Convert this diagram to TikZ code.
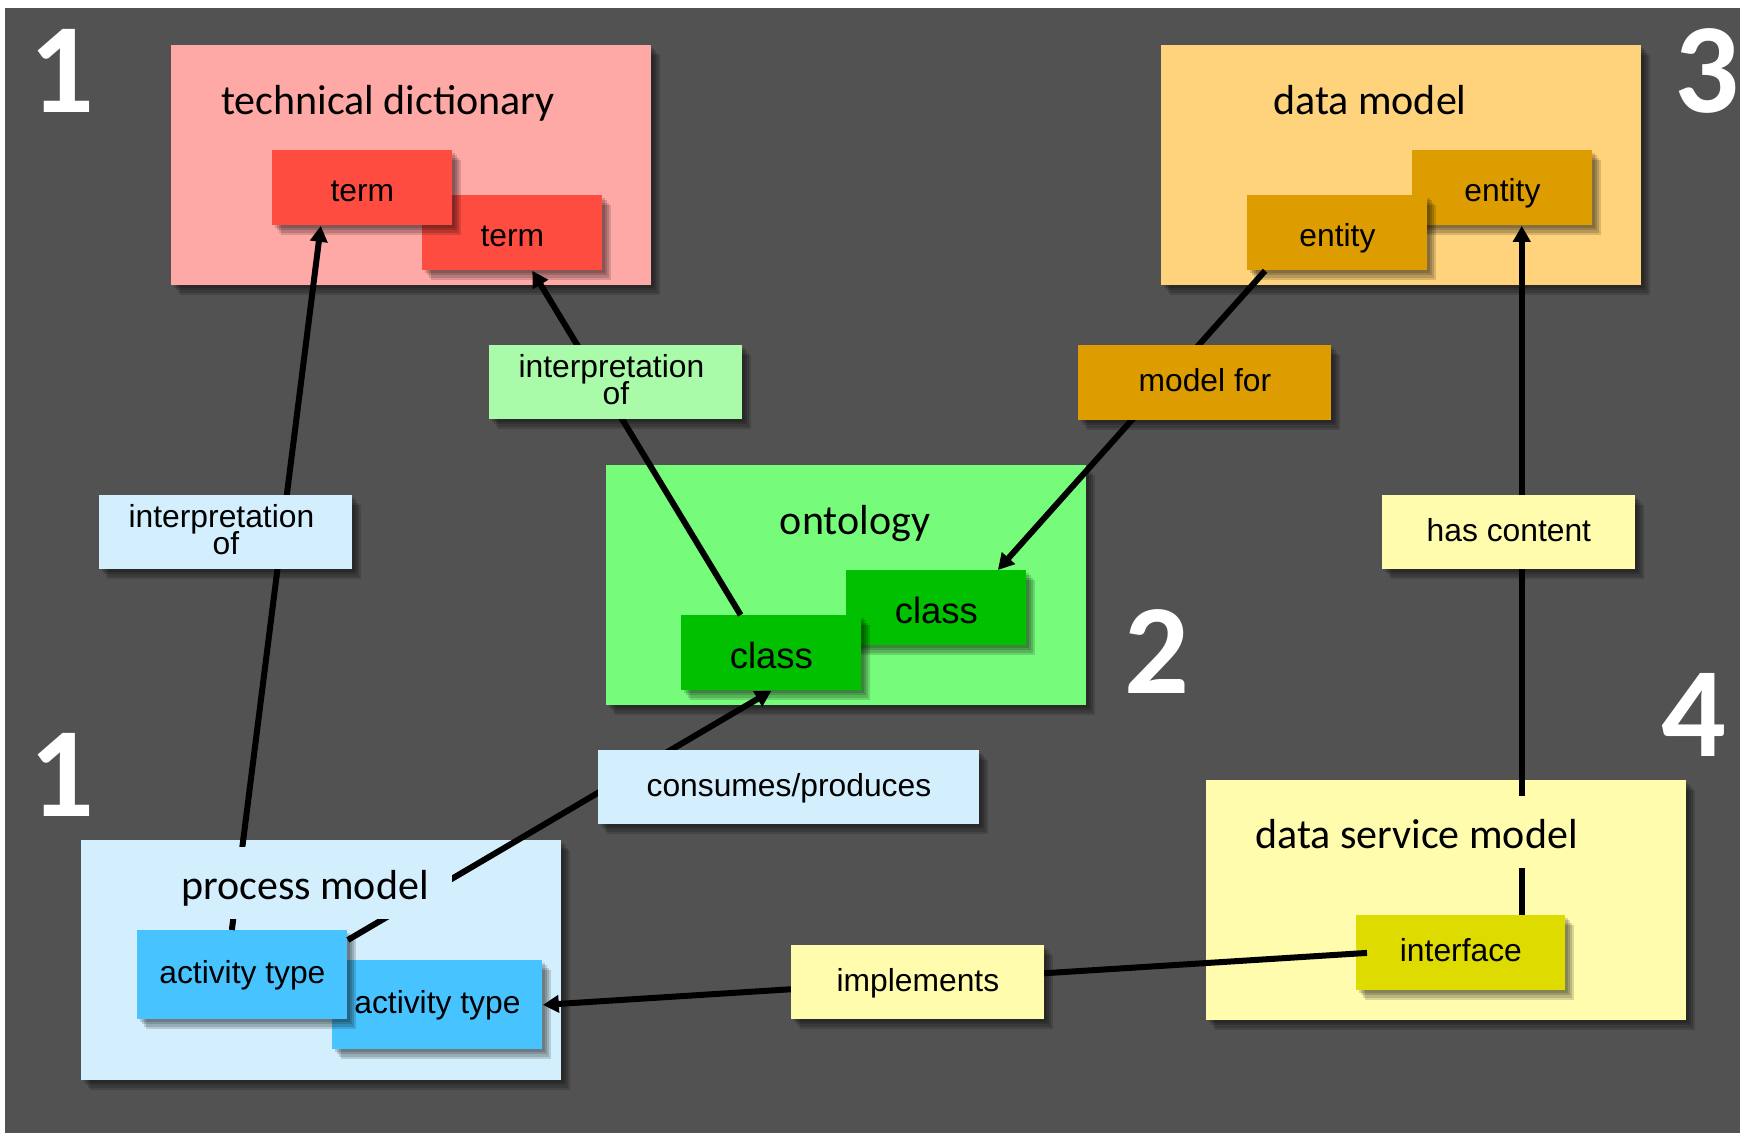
\documentclass[tikz,border=0pt]{standalone}
\usepackage{fontspec}
\usetikzlibrary{arrows.meta,calc}
\newfontfamily\labfont{Liberation Sans}
\newfontfamily\ttlfont{Carlito}
\newcommand\tightlines{\lineskiplimit=-20pt\relax}

\definecolor{bg}{HTML}{525252}
\definecolor{dictbg}{HTML}{FFA9A7}
\definecolor{termc}{HTML}{FF4C41}
\definecolor{dmbg}{HTML}{FFD37B}
\definecolor{entc}{HTML}{DD9D00}
\definecolor{ontbg}{HTML}{77FB7B}
\definecolor{classc}{HTML}{00C000}
\definecolor{ontlab}{HTML}{A9FAA9}
\definecolor{procbg}{HTML}{D3EFFD}
\definecolor{actc}{HTML}{47C3FF}
\definecolor{dsbg}{HTML}{FFFCAE}
\definecolor{ifc}{HTML}{DDDB00}

\begin{document}
\begin{tikzpicture}[x=0.5pt,y=-0.5pt,
  % soft drop shadow built from a few stacked translucent copies
  shadowlayer/.style={preaction={fill=black,fill opacity=0.15,
      transform canvas={shift={(#1)}}}},
  shade box/.style={shadowlayer={1.1pt,-1.3pt},shadowlayer={2.1pt,-2.5pt},
      shadowlayer={3.1pt,-3.7pt},shadowlayer={4.1pt,-4.9pt}},
  frame/.style={rectangle,inner sep=0pt,anchor=north west,shade box},
  area/.style={frame,minimum width=240pt,minimum height=120pt},
  item/.style={frame,font=\labfont\fontsize{15.9pt}{13pt}\selectfont,
      text height=11.5pt,text depth=2.5pt,minimum width=90pt,minimum height=37.5pt},
  lowtext/.style={text height=13.7pt,text depth=0.3pt},
  classbox/.style={item,fill=classc,font=\labfont\fontsize{18.25pt}{16pt}\selectfont,
      text height=15.6pt,text depth=0.4pt},
  actbox/.style={item,fill=actc,minimum width=105pt,minimum height=44.5pt},
  tag/.style={frame,font=\labfont\fontsize{15.9pt}{13.5pt}\selectfont\tightlines,
      align=center,minimum width=126.5pt,minimum height=37pt},
  oneline/.style={text height=11.5pt,text depth=2.5pt},
  twoline/.style={text depth=2.6pt},
  title/.style={font=\ttlfont\fontsize{21pt}{24pt}\selectfont,anchor=base,
      inner xsep=11.5pt,inner ysep=0pt,text height=26pt,text depth=10pt},
  digit/.style={font=\ttlfont\bfseries\fontsize{64pt}{64pt}\selectfont,
      text=white,anchor=base,inner sep=0pt},
  conn/.style={line width=3pt,-{Triangle[length=8pt,width=8.5pt]}}
]
\useasboundingbox (0,0) rectangle (1740,1134);
\fill[white] (0,0) rectangle (1740,1134);
\fill[bg] (5,8) rectangle (1740,1133);

% model areas
\node[area,fill=dictbg] (dict) at (171,45) {};
\node[area,fill=dmbg]   (dm)   at (1161,45) {};
\node[area,fill=ontbg]  (ont)  at (606,465) {};
\node[area,fill=procbg] (proc) at (81,840) {};
\node[area,fill=dsbg]   (dsm)  at (1206,780) {};

% elements inside the areas (back one first)
\node[item,lowtext,fill=termc] (t2) at (422,195) {term};
\node[item,lowtext,fill=termc] (t1) at (272,150) {term};
\node[item,lowtext,fill=entc]  (e1) at (1412,150) {entity};
\node[item,lowtext,fill=entc]  (e2) at (1247,195) {entity};
\node[classbox] (c1) at (846,570) {class};
\node[classbox] (c2) at (681,615) {class};
\node[actbox] (a2) at (332,960) {activity type};
\node[actbox] (a1) at (137,930) {activity type};
\node[item,fill=ifc,minimum width=104.5pt] (if) at (1356,915) {interface};

% relations
\draw[conn] ($(a1.north west)!0.45!(a1.north east)$) -- ($(t1.south west)!0.27!(t1.south east)$);
\draw[conn] ($(c2.north west)!0.33!(c2.north east)$) -- ($(t2.south west)!0.61!(t2.south east)$);
\draw[conn] ($(e2.south west)!0.1!(e2.south east)$) -- ($(c1.north west)!0.84!(c1.north east)$);
\draw[conn] ($(a1.north east)+(0,10)$) -- (c2.south);
\draw[conn] ($(if.north west)!0.79!(if.north east)$) coordinate (hc) -- (hc |- e1.south);
\draw[conn] ($(if.west)+(11,0)$) -- (a2.east);

% area titles
\node[title,fill=dictbg] (dictT) at (388,115) {technical dictionary};
\node[title,fill=dmbg]   (dmT)   at (1370,115) {data model};
\node[title,fill=ontbg]  (ontT)  at (855,534) {ontology};
\node[title,fill=procbg] (procT) at (305,899) {process model};
\node[title,fill=dsbg]   (dsmT)  at (1416.5,848) {data service model};

% relation labels
\node[tag,twoline,fill=procbg] (lbInt1) at (99,495) {interpretation\hspace*{.28em}\\of};
\node[tag,twoline,fill=ontlab] (lbInt2) at (489,345) {interpretation\hspace*{.28em}\\of};
\node[tag,oneline,fill=entc,minimum height=37.5pt] (lbModel) at (1078,345) {model for};
\node[tag,oneline,fill=procbg,minimum width=190.5pt] (lbCons) at (598,750) {consumes/produces};
\node[tag,oneline,fill=dsbg] (lbHas) at (1382,495) {has content};
\node[tag,oneline,fill=dsbg] (lbImpl) at (791,945) {implements};

% layer numbers
\node[digit] (n1a) at (62,113) {1};
\node[digit] (n1b) at (62,816) {1};
\node[digit] (n2)  at (1157,693) {2};
\node[digit] (n3)  at (1707,113) {3};
\node[digit] (n4)  at (1694,756) {4};
\end{tikzpicture}
\end{document}
